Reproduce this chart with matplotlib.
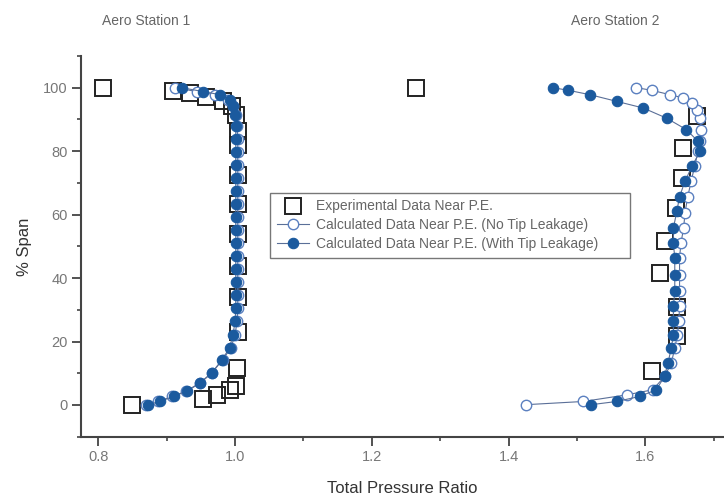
import matplotlib
matplotlib.use('Agg')
import matplotlib.pyplot as plt
from matplotlib.ticker import MultipleLocator

plt.rcParams['font.family'] = ['Liberation Sans', 'DejaVu Sans']

# Experimental data (squares), both aero stations
exp1_pr = [0.807, 0.909, 0.934, 0.958, 0.982, 0.996, 1.001, 1.004, 1.004, 1.004, 1.004,
           1.004, 1.004, 1.004, 1.004, 1.003, 1.001, 0.993, 0.973, 0.953, 0.850]
exp1_span = [100, 98.9, 98.3, 97.0, 95.8, 94.3, 91.3, 86.5, 82.0, 72.5, 63.3,
             54.0, 43.7, 34.0, 23.0, 11.8, 5.9, 4.8, 3.2, 1.9, 0.1]
exp2_pr = [1.265, 1.675, 1.655, 1.653, 1.645, 1.629, 1.621, 1.646, 1.646, 1.609]
exp2_span = [100, 91.0, 81.0, 71.5, 62.0, 51.6, 41.6, 31.0, 21.6, 10.6]

# Station 1 calculated data
calc1_span = [0.1, 1.1, 2.7, 4.3, 6.9, 10.1, 14.3, 18.0, 22.2, 26.4, 30.5, 34.6, 38.7,
              42.8, 46.9, 51.0, 55.1, 59.2, 63.3, 67.4, 71.5, 75.6, 79.7, 83.8, 87.9,
              91.5, 94.1, 96.2, 97.8, 98.8, 100]
calc1_tip = [0.873, 0.890, 0.910, 0.929, 0.949, 0.966, 0.981, 0.992, 0.997, 1.000, 1.001,
             1.001, 1.001, 1.001, 1.001, 1.001, 1.001, 1.001, 1.001, 1.001, 1.001, 1.001,
             1.001, 1.001, 1.001, 1.000, 0.997, 0.993, 0.978, 0.953, 0.922]
calc1_notip = [0.870, 0.888, 0.908, 0.928, 0.948, 0.966, 0.982, 0.994, 1.000, 1.003, 1.004,
               1.004, 1.004, 1.004, 1.004, 1.004, 1.004, 1.004, 1.004, 1.004, 1.004, 1.004,
               1.004, 1.004, 1.003, 1.001, 0.997, 0.989, 0.970, 0.944, 0.912]

# Station 2 calculated data
calc2_tip_span = [0.1, 1.1, 2.7, 4.8, 9.0, 13.2, 18.0, 22.2, 26.4, 31.1, 35.8, 41.1, 46.3,
                  51.0, 55.8, 61.0, 65.7, 70.5, 75.2, 79.9, 83.1, 86.8, 90.4, 93.6, 95.7,
                  97.8, 99.2, 100]
calc2_tip = [1.521, 1.558, 1.592, 1.616, 1.628, 1.633, 1.638, 1.641, 1.641, 1.641, 1.643,
             1.643, 1.643, 1.641, 1.641, 1.646, 1.650, 1.658, 1.668, 1.680, 1.677, 1.660,
             1.631, 1.597, 1.558, 1.519, 1.487, 1.465]
calc2_notip_span = [0.1, 1.1, 3.2, 4.8, 9.0, 13.2, 18.0, 22.2, 26.4, 31.1, 35.8, 41.1, 46.3,
                    51.0, 55.8, 60.6, 65.7, 70.5, 75.2, 79.9, 83.1, 86.8, 90.4, 93.1, 95.2,
                    96.8, 97.8, 99.2, 100]
calc2_notip = [1.426, 1.509, 1.573, 1.611, 1.628, 1.638, 1.643, 1.647, 1.649, 1.650, 1.650,
               1.650, 1.650, 1.652, 1.656, 1.658, 1.662, 1.667, 1.672, 1.677, 1.680, 1.682,
               1.680, 1.675, 1.668, 1.655, 1.636, 1.609, 1.587]

blue = '#1b5a9e'
open_edge = '#5b80c0'
line_col = '#5a6f98'

fig = plt.figure(figsize=(7.24, 5.03), dpi=100)
ax = fig.add_axes([0.1115, 0.1318, 0.8885, 0.7569])

sq = dict(marker='s', ms=11, mfc='none', mec='#222222', mew=1.4, ls='none')
ax.plot(exp1_pr, exp1_span, label='Experimental Data Near P.E.', **sq)
ax.plot(exp2_pr, exp2_span, **sq)

op = dict(marker='o', ms=7.5, mfc='white', mec=open_edge, mew=1.0, color=line_col, lw=0.8)
ax.plot(calc1_notip, calc1_span, label='Calculated Data Near P.E. (No Tip Leakage)', **op)
ax.plot(calc2_notip, calc2_notip_span, **op)

fi = dict(marker='o', ms=7.5, mfc=blue, mec=blue, mew=0.8, color=line_col, lw=0.8)
ax.plot(calc1_tip, calc1_span, label='Calculated Data Near P.E. (With Tip Leakage)', **fi)
ax.plot(calc2_tip, calc2_tip_span, **fi)

ax.set_xlim(0.7743, 1.715)
ax.set_ylim(-10, 110)
ax.xaxis.set_major_locator(MultipleLocator(0.2))
ax.xaxis.set_minor_locator(MultipleLocator(0.1))
ax.yaxis.set_major_locator(MultipleLocator(20))
ax.yaxis.set_minor_locator(MultipleLocator(10))
ax.xaxis.set_major_formatter(plt.FormatStrFormatter('%.1f'))

for s in ['top', 'right']:
    ax.spines[s].set_visible(False)
for s in ['left', 'bottom']:
    ax.spines[s].set_color('#444444')
    ax.spines[s].set_linewidth(1.5)

ax.tick_params(which='major', direction='out', length=6.5, width=1.3, color='#444444',
               labelsize=10.5, labelcolor='#777777', pad=3)
ax.tick_params(which='minor', direction='out', length=3, width=1.2, color='#444444')

ax.set_xlabel('Total Pressure Ratio', fontsize=12, color='#333333', labelpad=12)
ax.set_ylabel('% Span', fontsize=12, color='#333333', labelpad=8)

fig.text(0.202, 0.958, 'Aero Station 1', fontsize=10, color='#666666', ha='center', va='center')
fig.text(0.850, 0.958, 'Aero Station 2', fontsize=10, color='#666666', ha='center', va='center')

leg = ax.legend(loc='lower left', bbox_to_anchor=(0.294, 0.469, 0.56, 0.171), mode='expand',
                fontsize=10, frameon=True, fancybox=False, borderaxespad=0,
                handlelength=2.3, handletextpad=0.5, labelspacing=0.35, borderpad=0.5)
leg.get_frame().set_edgecolor('#555555')
leg.get_frame().set_linewidth(1.0)
for t in leg.get_texts():
    t.set_color('#666666')

fig.savefig('out.png', dpi=100)
